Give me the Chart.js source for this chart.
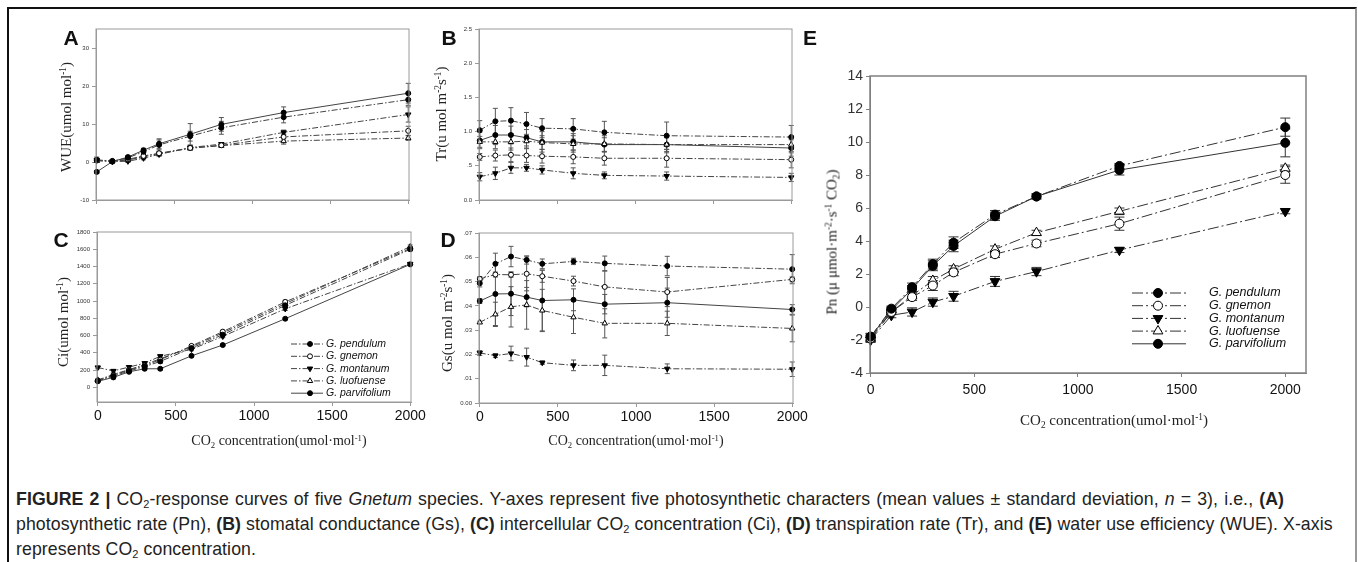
<!DOCTYPE html>
<html><head><meta charset="utf-8">
<script src="https://cdn.jsdelivr.net/npm/chart.js@4.4.0/dist/chart.umd.min.js"></script>
<style>
html,body{margin:0;padding:0;background:#fff;}
#fig{position:relative;width:1358px;height:562px;overflow:hidden;font-family:"Liberation Sans",Arial,sans-serif;}
#frame{position:absolute;left:7px;top:7px;width:1350px;height:620px;border-left:2px solid #111;border-top:2px solid #111;border-right:2px solid #999;box-sizing:border-box;}
canvas{position:absolute;}
.lbl{position:absolute;font:bold 21px "Liberation Sans",Arial,sans-serif;transform:translate(-50%,-50%);color:#111;}
.ttl{position:absolute;font-family:"Liberation Serif","Times New Roman",serif;white-space:nowrap;color:#222;line-height:1;}
.xt{transform:translate(-50%,-50%);}
.yt{transform:translate(-50%,-50%) rotate(-90deg);}
sup{font-size:0.62em;vertical-align:0;position:relative;top:-0.5em;line-height:0;}
sub{font-size:0.62em;vertical-align:0;position:relative;top:0.3em;line-height:0;}
#cap{position:absolute;left:16px;top:487px;font:17.7px "Liberation Sans",Arial,sans-serif;letter-spacing:0.1px;line-height:25px;white-space:nowrap;color:#222;}
#cap .l1{word-spacing:1px;}
</style></head>
<body>
<div id="fig">
<div id="frame"></div>
<canvas id="cA"></canvas><canvas id="cB"></canvas><canvas id="cC"></canvas><canvas id="cD"></canvas><canvas id="cE"></canvas>
<div class="lbl" style="left:71px;top:38px">A</div>
<div class="lbl" style="left:449px;top:38px">B</div>
<div class="lbl" style="left:810px;top:38px">E</div>
<div class="lbl" style="left:61px;top:240px">C</div>
<div class="lbl" style="left:448px;top:240px">D</div>
<div class="ttl yt" style="left:66px;top:117px;font-size:15px">WUE(umol mol<sup>-1</sup>)</div>
<div class="ttl yt" style="left:441px;top:114px;font-size:15px">Tr(u mol m<sup>-2</sup>s<sup>-1</sup>)</div>
<div class="ttl yt" style="left:63px;top:322px;font-size:15px">Ci(umol mol<sup>-1</sup>)</div>
<div class="ttl yt" style="left:447px;top:323px;font-size:15px">Gs(u mol m<sup>-2</sup>s<sup>-1</sup>)</div>
<div class="ttl yt" style="left:832px;top:242px;font-size:15px">Pn (μ μmol·m<sup>-2</sup>·s<sup>-1</sup> CO<sub>2</sub>)</div>
<div class="ttl xt" style="left:279px;top:441px;font-size:14px">CO<sub>2</sub> concentration(umol·mol<sup>-1</sup>)</div>
<div class="ttl xt" style="left:636px;top:441px;font-size:14px">CO<sub>2</sub> concentration(umol·mol<sup>-1</sup>)</div>
<div class="ttl xt" style="left:1114px;top:420px;font-size:15px">CO<sub>2</sub> concentration(umol·mol<sup>-1</sup>)</div>
<div id="cap"><span class="l1"><b>FIGURE 2 |</b> CO<sub>2</sub>-response curves of five <i>Gnetum</i> species. Y-axes represent five photosynthetic characters (mean values ± standard deviation, <i>n</i> = 3), i.e., <b>(A)</b></span><br>photosynthetic rate (Pn), <b>(B)</b> stomatal conductance (Gs), <b>(C)</b> intercellular CO<sub>2</sub> concentration (Ci), <b>(D)</b> transpiration rate (Tr), and <b>(E)</b> water use efficiency (WUE). X-axis<br>represents CO<sub>2</sub> concentration.</div>
</div>
<script>
// ---------------- DATA ----------------
const co2 = [0, 100, 200, 300, 400, 600, 800, 1200, 2000];
const species = ['G. pendulum', 'G. gnemon', 'G. montanum', 'G. luofuense', 'G. parvifolium'];

// (A) WUE, order = species
const wueMean = [
  [0.6, 0.2, 1.1, 2.7, 4.5, 6.8, 9.0, 11.8, 16.4],
  [0.4, 0.3, 0.7, 1.6, 2.3, 3.7, 4.4, 6.6, 8.2],
  [0.5, 0.1, 0.2, 1.0, 2.0, 3.8, 4.7, 7.8, 12.5],
  [0.3, 0.2, 0.5, 1.4, 2.2, 3.6, 4.3, 5.5, 6.3],
  [-2.6, 0.1, 1.3, 3.1, 4.8, 7.3, 9.9, 13.0, 18.1]
];
const wueSD = [
  [0.7, 0.3, 0.4, 0.6, 1.3, 1.3, 1.7, 1.5, 1.5],
  [0.4, 0.2, 0.3, 0.4, 0.5, 0.5, 0.4, 0.8, 1.2],
  [0.5, 0.2, 0.3, 0.4, 0.5, 0.4, 0.4, 0.6, 2.0],
  [0.4, 0.2, 0.3, 0.4, 0.5, 0.4, 0.4, 0.8, 0.6],
  [0.4, 0.3, 0.4, 0.5, 1.3, 2.8, 1.8, 1.5, 2.6]
];
// (B) Tr
const trMean = [
  [1.02, 1.15, 1.16, 1.11, 1.05, 1.04, 0.99, 0.94, 0.92],
  [0.63, 0.65, 0.66, 0.65, 0.64, 0.63, 0.61, 0.61, 0.59],
  [0.34, 0.39, 0.47, 0.47, 0.44, 0.39, 0.36, 0.35, 0.33],
  [0.85, 0.85, 0.85, 0.86, 0.84, 0.82, 0.82, 0.81, 0.81],
  [0.87, 0.95, 0.95, 0.91, 0.85, 0.85, 0.81, 0.81, 0.76]
];
const trSD = [
  [0.14, 0.19, 0.19, 0.17, 0.14, 0.15, 0.16, 0.20, 0.17],
  [0.05, 0.08, 0.10, 0.10, 0.10, 0.10, 0.10, 0.13, 0.12],
  [0.06, 0.09, 0.08, 0.05, 0.06, 0.08, 0.05, 0.06, 0.06],
  [0.08, 0.10, 0.12, 0.10, 0.10, 0.12, 0.12, 0.12, 0.12],
  [0.12, 0.14, 0.13, 0.12, 0.15, 0.12, 0.10, 0.10, 0.12]
];
// (C) Ci
const ciMean = [
  [75, 130, 190, 240, 300, 455, 610, 950, 1600],
  [80, 140, 200, 250, 320, 480, 645, 990, 1610],
  [230, 190, 235, 280, 360, 440, 590, 910, 1430],
  [85, 150, 205, 265, 330, 470, 630, 970, 1630],
  [70, 115, 180, 215, 215, 365, 490, 795, 1425]
];
const ciSD = [
  [10, 12, 15, 15, 20, 15, 15, 20, 20],
  [10, 12, 15, 15, 20, 15, 15, 20, 20],
  [15, 15, 15, 15, 20, 15, 15, 20, 15],
  [10, 12, 15, 15, 20, 15, 15, 20, 20],
  [10, 10, 12, 12, 15, 12, 10, 12, 15]
];
// (D) Gs
const gsMean = [
  [0.0493, 0.0573, 0.0603, 0.0589, 0.0573, 0.0583, 0.0575, 0.0564, 0.0551],
  [0.0511, 0.0529, 0.0528, 0.0532, 0.0522, 0.0502, 0.0478, 0.0457, 0.0509],
  [0.0206, 0.0195, 0.0204, 0.0189, 0.0166, 0.0155, 0.0155, 0.0141, 0.0139],
  [0.0332, 0.0365, 0.0396, 0.0404, 0.0381, 0.0353, 0.0328, 0.0328, 0.0307],
  [0.0420, 0.0449, 0.0450, 0.0436, 0.0422, 0.0425, 0.0407, 0.0413, 0.0385]
];
const gsSD = [
  [0.0015, 0.0044, 0.0042, 0.0017, 0.0020, 0.0013, 0.0030, 0.0040, 0.0060],
  [0.0010, 0.0010, 0.0010, 0.0070, 0.0025, 0.0020, 0.0065, 0.0060, 0.0010],
  [0.0010, 0.0008, 0.0030, 0.0037, 0.0007, 0.0022, 0.0042, 0.0020, 0.0030],
  [0.0005, 0.0050, 0.0083, 0.0100, 0.0087, 0.0067, 0.0060, 0.0050, 0.0055],
  [0.0010, 0.0130, 0.0090, 0.0040, 0.0125, 0.0045, 0.0040, 0.0060, 0.0020]
];
// (E) Pn
const pnMean = [
  [-1.8, -0.1, 1.2, 2.6, 3.9, 5.6, 6.7, 8.55, 10.9],
  [-1.9, -0.3, 0.6, 1.3, 2.1, 3.2, 3.85, 5.05, 8.0],
  [-2.0, -0.5, -0.3, 0.3, 0.65, 1.55, 2.15, 3.45, 5.8],
  [-1.9, -0.3, 0.7, 1.6, 2.3, 3.5, 4.5, 5.8, 8.4],
  [-1.8, -0.2, 1.1, 2.5, 3.7, 5.5, 6.7, 8.3, 9.95]
];
const pnSD = [
  [0.20, 0.15, 0.25, 0.30, 0.35, 0.25, 0.15, 0.15, 0.55],
  [0.20, 0.15, 0.20, 0.30, 0.20, 0.20, 0.20, 0.40, 0.50],
  [0.15, 0.15, 0.25, 0.25, 0.30, 0.30, 0.25, 0.15, 0.15],
  [0.20, 0.15, 0.20, 0.25, 0.20, 0.20, 0.15, 0.20, 0.20],
  [0.20, 0.15, 0.20, 0.30, 0.35, 0.25, 0.15, 0.30, 0.85]
];

// tick values and labels
const xTicks = [0, 500, 1000, 1500, 2000];
const xTickLabels = ['0', '500', '1000', '1500', '2000'];
const wueTicks = [-10, 0, 10, 20, 30];
const wueTickLabels = ['-10', '0', '10', '20', '30'];
const trTicks = [0, 0.5, 1, 1.5, 2, 2.5];
const trTickLabels = ['0.0', '.5', '1.0', '1.5', '2.0', '2.5'];
const ciTicks = [0, 200, 400, 600, 800, 1000, 1200, 1400, 1600, 1800];
const ciTickLabels = ['0', '200', '400', '600', '800', '1000', '1200', '1400', '1600', '1800'];
const gsTicks = [0, 0.01, 0.02, 0.03, 0.04, 0.05, 0.06, 0.07];
const gsTickLabels = ['0.00', '.01', '.02', '.03', '.04', '.05', '.06', '.07'];
const pnTicks = [-4, -2, 0, 2, 4, 6, 8, 10, 12, 14];
const pnTickLabels = ['-4', '-2', '0', '2', '4', '6', '8', '10', '12', '14'];

// ---------------- STYLES ----------------
const seriesStyle = [
  {shape: 'circle',   rot: 0,   fill: '#000', dash: 'dd'},
  {shape: 'circle',   rot: 0,   fill: '#fff', dash: 'dd'},
  {shape: 'triangle', rot: 180, fill: '#000', dash: 'dd'},
  {shape: 'triangle', rot: 0,   fill: '#fff', dash: 'dd'},
  {shape: 'circle',   rot: 0,   fill: '#000', dash: 'solid'}
];

// ---------------- PLUGINS ----------------
const errorBars = {
  id: 'errorBars',
  beforeDatasetsDraw(chart, args, o) {
    const ctx = chart.ctx, ys = chart.scales.y;
    ctx.save();
    ctx.strokeStyle = o.color; ctx.lineWidth = o.width;
    chart.data.datasets.forEach((ds, i) => {
      const meta = chart.getDatasetMeta(i);
      ds.sd.forEach((e, j) => {
        const p = meta.data[j]; const v = ds.data[j].y;
        const y1 = ys.getPixelForValue(v + e), y2 = ys.getPixelForValue(v - e);
        ctx.beginPath();
        ctx.moveTo(p.x, y1); ctx.lineTo(p.x, y2);
        ctx.moveTo(p.x - o.cap, y1); ctx.lineTo(p.x + o.cap, y1);
        ctx.moveTo(p.x - o.cap, y2); ctx.lineTo(p.x + o.cap, y2);
        ctx.stroke();
      });
    });
    ctx.restore();
  }
};
const frameBox = {
  id: 'frameBox',
  afterDraw(chart, args, o) {
    const a = chart.chartArea, ctx = chart.ctx;
    ctx.save(); ctx.strokeStyle = o.color; ctx.lineWidth = o.width;
    ctx.strokeRect(a.left, a.top, a.right - a.left, a.bottom - a.top);
    ctx.restore();
  }
};
function drawMarker(ctx, shape, rot, r, x, y, fill, stroke, lw) {
  ctx.save(); ctx.fillStyle = fill; ctx.strokeStyle = stroke; ctx.lineWidth = lw;
  ctx.beginPath();
  if (shape === 'circle') { ctx.arc(x, y, r, 0, Math.PI * 2); }
  else {
    const s = rot === 180 ? -1 : 1;
    ctx.moveTo(x, y - s * r); ctx.lineTo(x + r * 0.87, y + s * r * 0.5); ctx.lineTo(x - r * 0.87, y + s * r * 0.5); ctx.closePath();
  }
  ctx.fill(); ctx.stroke(); ctx.restore();
}
const lineLegend = {
  id: 'lineLegend',
  afterDraw(chart, args, o) {
    if (!o.show) return;
    const ctx = chart.ctx;
    chart.data.datasets.forEach((ds, i) => {
      const y = o.y + i * o.dy;
      ctx.save();
      ctx.strokeStyle = ds.borderColor; ctx.lineWidth = ds.borderWidth;
      ctx.setLineDash(ds.borderDash || []);
      ctx.beginPath(); ctx.moveTo(o.x0, y); ctx.lineTo(o.x1, y); ctx.stroke();
      ctx.setLineDash([]);
      const st = seriesStyle[i];
      drawMarker(ctx, st.shape, st.rot, ds.pointRadius, o.xm, y, st.fill, '#000', 1);
      ctx.font = o.font; ctx.fillStyle = '#111'; ctx.textBaseline = 'middle';
      ctx.fillText(ds.label, o.xt, y);
      ctx.restore();
    });
  }
};

// ---------------- CHART FACTORY ----------------
const PADL = 50, PADT = 12, PADR = 28, PADB = 40;
function makeChart(id, plot, cfg) {
  const cv = document.getElementById(id);
  const W = plot.R - plot.L + PADL + PADR, H = plot.B - plot.T + PADT + PADB;
  cv.width = W; cv.height = H;
  cv.style.left = (plot.L - PADL) + 'px'; cv.style.top = (plot.T - PADT) + 'px';
  cv.style.width = W + 'px'; cv.style.height = H + 'px';
  const ox = plot.L - PADL, oy = plot.T - PADT;
  const datasets = cfg.means.map((m, i) => {
    const st = seriesStyle[i];
    return {
      label: species[i],
      data: co2.map((x, j) => ({x: x, y: m[j]})),
      sd: cfg.sds[i],
      borderColor: cfg.lineColor, borderWidth: 1,
      borderDash: st.dash === 'solid' ? [] : cfg.dash,
      pointStyle: st.shape === 'circle' ? 'circle' : 'triangle',
      pointRotation: st.rot,
      pointRadius: st.shape === 'circle' ? cfg.r : cfg.r * 1.25,
      pointBackgroundColor: st.fill, pointBorderColor: '#000', pointBorderWidth: 1,
      tension: 0, clip: false, fill: false
    };
  });
  const leg = cfg.legend ? {show: true, x0: cfg.legend.x0 - ox, x1: cfg.legend.x1 - ox, xm: cfg.legend.xm - ox,
    xt: cfg.legend.xt - ox, y: cfg.legend.y - oy, dy: cfg.legend.dy, font: cfg.legend.font} : {show: false};
  return new Chart(cv, {
    type: 'line',
    data: {datasets},
    plugins: [errorBars, frameBox, lineLegend],
    options: {
      responsive: false, animation: false, devicePixelRatio: 1,
      layout: {padding: {left: 0, top: PADT, right: PADR, bottom: 0}},
      plugins: {legend: {display: false}, tooltip: {enabled: false},
        errorBars: {color: cfg.errColor, width: 1, cap: cfg.cap},
        frameBox: {color: cfg.frameColor, width: cfg.frameWidth},
        lineLegend: leg},
      scales: {
        x: {type: 'linear', min: cfg.xmin, max: cfg.xmax, offset: false,
          afterFit: s => { s.height = PADB; },
          afterBuildTicks: s => { s.ticks = xTicks.map(v => ({value: v})); },
          grid: {display: true, drawOnChartArea: false, drawTicks: true, tickLength: 4, color: cfg.frameColor},
          border: {display: true, color: cfg.frameColor},
          ticks: {display: cfg.xLabels, padding: cfg.xPad, color: '#111', maxRotation: 0, autoSkip: false,
            font: {family: 'Liberation Sans, Arial, sans-serif', size: cfg.xFont},
            callback: (v, i) => xTickLabels[i]}
        },
        y: {type: 'linear', min: cfg.ymin, max: cfg.ymax,
          afterFit: s => { s.width = PADL; },
          afterBuildTicks: s => { s.ticks = cfg.yTicks.map(v => ({value: v})); },
          grid: {display: true, drawOnChartArea: false, drawTicks: true, tickLength: 4, color: cfg.frameColor},
          border: {display: true, color: cfg.frameColor},
          ticks: {padding: 3, color: '#333', autoSkip: false,
            font: {family: 'Liberation Sans, Arial, sans-serif', size: cfg.yFont},
            callback: (v, i) => cfg.yLabels[i]}
        }
      }
    }
  });
}

const small = {lineColor: '#444', dash: [6, 2, 1.5, 2], r: 2.5, errColor: '#555', cap: 2.5,
  frameColor: '#9a9a9a', frameWidth: 1, xmin: -5, xmax: 2005, yFont: 6};

makeChart('cA', {L: 96, T: 29, R: 409, B: 200}, Object.assign({}, small, {
  means: wueMean, sds: wueSD, ymin: -10, ymax: 35, yTicks: wueTicks, yLabels: wueTickLabels,
  xLabels: false, xFont: 14, xPad: 2}));
makeChart('cB', {L: 479, T: 29, R: 792, B: 200}, Object.assign({}, small, {
  means: trMean, sds: trSD, ymin: 0, ymax: 2.5, yTicks: trTicks, yLabels: trTickLabels,
  xLabels: false, xFont: 14, xPad: 2}));
makeChart('cC', {L: 97, T: 232, R: 411, B: 402}, Object.assign({}, small, {
  means: ciMean, sds: ciSD, ymin: -170, ymax: 1800, yTicks: ciTicks, yLabels: ciTickLabels,
  xLabels: true, xFont: 14, xPad: 2,
  legend: {x0: 291, x1: 323, xm: 310, xt: 326, y: 344, dy: 12.3, font: 'italic 10.5px Liberation Sans, Arial, sans-serif'}}));
makeChart('cD', {L: 479, T: 233, R: 793, B: 403}, Object.assign({}, small, {
  means: gsMean, sds: gsSD, ymin: 0, ymax: 0.07, yTicks: gsTicks, yLabels: gsTickLabels,
  xLabels: true, xFont: 14, xPad: 2}));
makeChart('cE', {L: 870, T: 76, R: 1306, B: 373}, {
  means: pnMean, sds: pnSD, lineColor: '#333', dash: [11, 3, 2, 3], r: 4.5, errColor: '#333', cap: 5,
  frameColor: '#808080', frameWidth: 1.5, xmin: -3, xmax: 2100,
  ymin: -4, ymax: 14, yTicks: pnTicks, yLabels: pnTickLabels, yFont: 14,
  xLabels: true, xFont: 14, xPad: 5,
  legend: {x0: 1132, x1: 1186, xm: 1158, xt: 1209, y: 293, dy: 12.7, font: 'italic 12.5px Liberation Sans, Arial, sans-serif'}});
</script>
</body></html>
